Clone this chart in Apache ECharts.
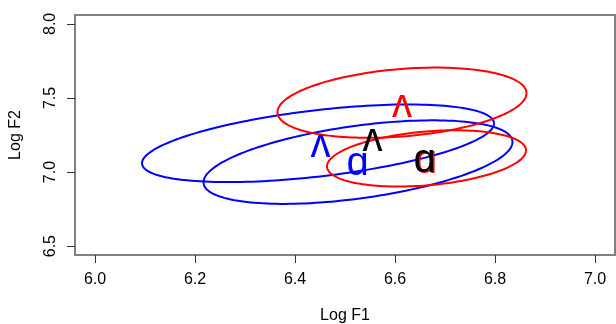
<!DOCTYPE html>
<html>
<head>
<meta charset="utf-8">
<title>Log F1 / Log F2</title>
<script src="https://cdn.jsdelivr.net/npm/echarts@6/dist/echarts.min.js"></script>
<style>
  html, body { margin: 0; padding: 0; background: #fff; }
  #myChart { width: 616px; height: 324px; }
</style>
</head>
<body>
<div id="myChart"></div>
<script>
// ellipses: centre, half width, y offset of the rightmost point, half height
var ellipseColors = ['#0000ff', '#0000ff', '#ff0000', '#ff0000']
var ellipseCx = [6.446, 6.526, 6.614, 6.663]
var ellipseCy = [7.194, 7.067, 7.468, 7.092]
var ellipseHalfW = [0.352, 0.309, 0.249, 0.199]
var ellipseRightDy = [0.134, 0.136, 0.064, 0.054]
var ellipseHalfH = [0.262, 0.282, 0.237, 0.190]

// vowel symbols
var labelGlyphs = ['ʌ', 'ɑ', 'ʌ', 'ɑ', 'ʌ', 'ɑ']
var labelColors = ['#0000ff', '#0000ff', '#ff0000', '#ff0000', '#000000', '#000000']
var labelX = [6.451, 6.525, 6.614, 6.662, 6.555, 6.659]
var labelY = [7.184, 7.058, 7.451, 7.075, 7.226, 7.082]

var xTicks = [6.0, 6.2, 6.4, 6.6, 6.8, 7.0]
var yTicks = [6.5, 7.0, 7.5, 8.0]

var font = "'Liberation Sans', Arial, 'DejaVu Sans', sans-serif"

var ellipseData = ellipseCx.map(function (x, i) {
  return [x, ellipseCy[i], ellipseHalfW[i], ellipseRightDy[i], ellipseHalfH[i]]
})

var labelSeries = labelGlyphs.map(function (g, i) {
  return {
    type: 'scatter',
    symbolSize: 0,
    silent: true,
    z: 5,
    itemStyle: { opacity: 1 },
    data: [[labelX[i], labelY[i]]],
    label: {
      show: true,
      position: 'inside',
      offset: [0, 1],
      formatter: g,
      color: labelColors[i],
      opacity: 1,
      textBorderWidth: 0,
      fontFamily: font,
      fontSize: 40
    }
  }
})

var myChart = echarts.init(document.getElementById('myChart'))
myChart.setOption({
  animation: false,
  backgroundColor: '#ffffff',
  grid: {
    left: 75,
    right: 1,
    top: 15,
    bottom: 69,
    outerBoundsMode: 'none',
    show: true,
    borderColor: '#808080',
    borderWidth: 2
  },
  xAxis: {
    type: 'value',
    min: 5.96,
    max: 7.04,
    name: 'Log F1',
    nameLocation: 'middle',
    nameGap: 53,
    nameTextStyle: { fontFamily: font, fontSize: 16, color: '#000' },
    axisLine: { show: false },
    splitLine: { show: false },
    axisTick: { show: true, length: 8, customValues: xTicks, lineStyle: { color: '#333' } },
    axisLabel: {
      customValues: xTicks,
      margin: 17,
      fontFamily: font,
      fontSize: 16,
      color: '#000',
      formatter: function (v) { return v.toFixed(1) }
    }
  },
  yAxis: {
    type: 'value',
    min: 6.44,
    max: 8.06,
    name: 'Log F2',
    nameLocation: 'middle',
    nameGap: 51,
    nameTextStyle: { fontFamily: font, fontSize: 16, color: '#000' },
    axisLine: { show: false },
    splitLine: { show: false },
    axisTick: { show: true, length: 8, customValues: yTicks, lineStyle: { color: '#333' } },
    axisLabel: {
      customValues: yTicks,
      rotate: 90,
      margin: 16,
      fontFamily: font,
      fontSize: 16,
      color: '#000',
      formatter: function (v) { return v.toFixed(1) }
    }
  },
  series: [
    {
      type: 'custom',
      silent: true,
      z: 2,
      dimensions: ['cx', 'cy', 'w', 'dy', 'h'],
      encode: { x: 0, y: 1 },
      data: ellipseData,
      renderItem: function (params, api) {
        var cx = api.value(0)
        var cy = api.value(1)
        var w = api.value(2)
        var dy = api.value(3)
        var h = api.value(4)
        var k = Math.sqrt(h * h - dy * dy)
        var pts = []
        for (var i = 0; i <= 180; i++) {
          var t = i / 180 * Math.PI * 2
          pts.push(api.coord([cx + w * Math.cos(t), cy + dy * Math.cos(t) + k * Math.sin(t)]))
        }
        return {
          type: 'polyline',
          shape: { points: pts },
          style: { stroke: ellipseColors[params.dataIndex], lineWidth: 2, fill: null }
        }
      }
    }
  ].concat(labelSeries)
})
</script>
</body>
</html>
